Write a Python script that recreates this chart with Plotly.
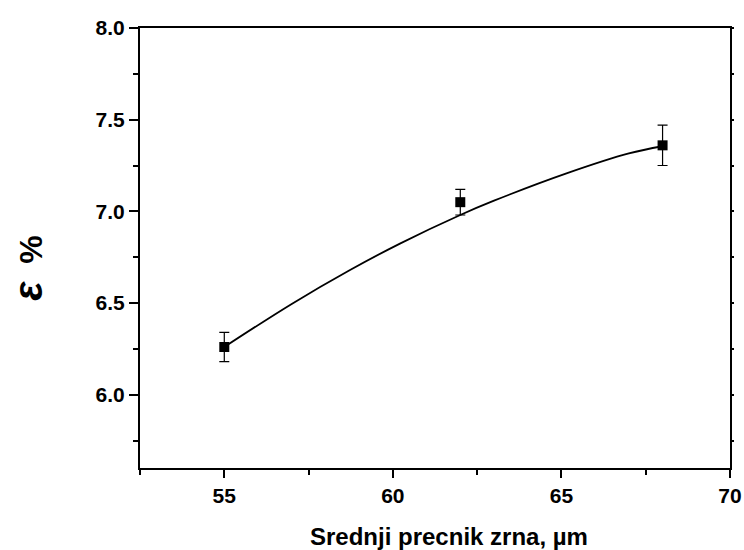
import plotly.graph_objects as go

# Data
x_pts = [55, 62, 68]
y_pts = [6.26, 7.05, 7.36]
y_err = [0.08, 0.07, 0.11]

# Fitted curve
fit_x = [55, 57, 58.73, 60.21, 62, 63, 65.15, 67, 68]
fit_y = [6.26, 6.495, 6.68, 6.824, 6.98, 7.058, 7.207, 7.316, 7.355]

x_ticks = [55, 60, 65, 70]
y_ticks = [6.0, 6.5, 7.0, 7.5, 8.0]
x_title = "Srednji precnik zrna, µm"
y_title = "<i><span style='font-size:40px'>ε</span></i>  %"

fig = go.Figure()
fig.add_trace(go.Scatter(x=fit_x, y=fit_y, mode="lines",
                         line=dict(color="black", width=1.8, shape="spline"),
                         showlegend=False, hoverinfo="skip"))
fig.add_trace(go.Scatter(x=x_pts, y=y_pts, mode="markers",
                         marker=dict(symbol="square", size=10, color="black"),
                         error_y=dict(type="data", array=y_err, color="black",
                                      thickness=1.2, width=5),
                         showlegend=False))
# invisible trace on secondary y axis for right-side ticks
fig.add_trace(go.Scatter(x=[None], y=[None], yaxis="y2", showlegend=False))

font = "Liberation Sans, Arial, sans-serif"
fig.update_layout(
    template="none",
    width=744, height=550,
    margin=dict(l=140, r=14, t=28, b=82),
    paper_bgcolor="white", plot_bgcolor="white",
    font=dict(family=font, color="black"),
    xaxis=dict(range=[52.5, 70], tickvals=x_ticks, ticktext=[str(v) for v in x_ticks],
               automargin=False,
               ticks="outside", ticklen=8, tickwidth=2, tickcolor="black",
               minor=dict(tickvals=[52.5, 57.5, 62.5, 67.5], ticks="outside",
                          ticklen=5, tickwidth=2, tickcolor="black"),
               showline=True, linewidth=2, linecolor="black", mirror=True,
               showgrid=False, zeroline=False,
               tickfont=dict(size=21, family=font, weight="bold")),
    yaxis=dict(range=[5.6, 8.0], tickvals=y_ticks, ticktext=["%.1f" % v for v in y_ticks],
               automargin=False,
               ticks="outside", ticklen=9, tickwidth=2, tickcolor="black",
               minor=dict(tickvals=[5.75, 6.25, 6.75, 7.25, 7.75], ticks="outside",
                          ticklen=5, tickwidth=2, tickcolor="black"),
               showline=True, linewidth=2, linecolor="black", mirror=True,
               showgrid=False, zeroline=False,
               tickfont=dict(size=21, family=font, weight="bold")),
    yaxis2=dict(overlaying="y", side="right", matches="y", range=[5.6, 8.0],
                automargin=False,
                tickvals=y_ticks, showticklabels=False,
                ticks="outside", ticklen=3, tickwidth=2, tickcolor="black",
                minor=dict(tickvals=[5.75, 6.25, 6.75, 7.25, 7.75], ticks="outside",
                           ticklen=3, tickwidth=2, tickcolor="black"),
                showline=False, showgrid=False, zeroline=False),
    annotations=[
        dict(text="<b>" + x_title + "</b>", xref="paper", yref="paper",
             x=0.524, y=-0.155, xanchor="center", yanchor="middle",
             showarrow=False, font=dict(size=24, family=font, color="black")),
        dict(text="<b>" + y_title + "</b>", xref="paper", yref="paper",
             x=-0.19, y=0.455, xanchor="center", yanchor="middle", textangle=-90,
             showarrow=False, font=dict(size=32, family=font, color="black")),
    ],
)

fig.write_html("out.html")
